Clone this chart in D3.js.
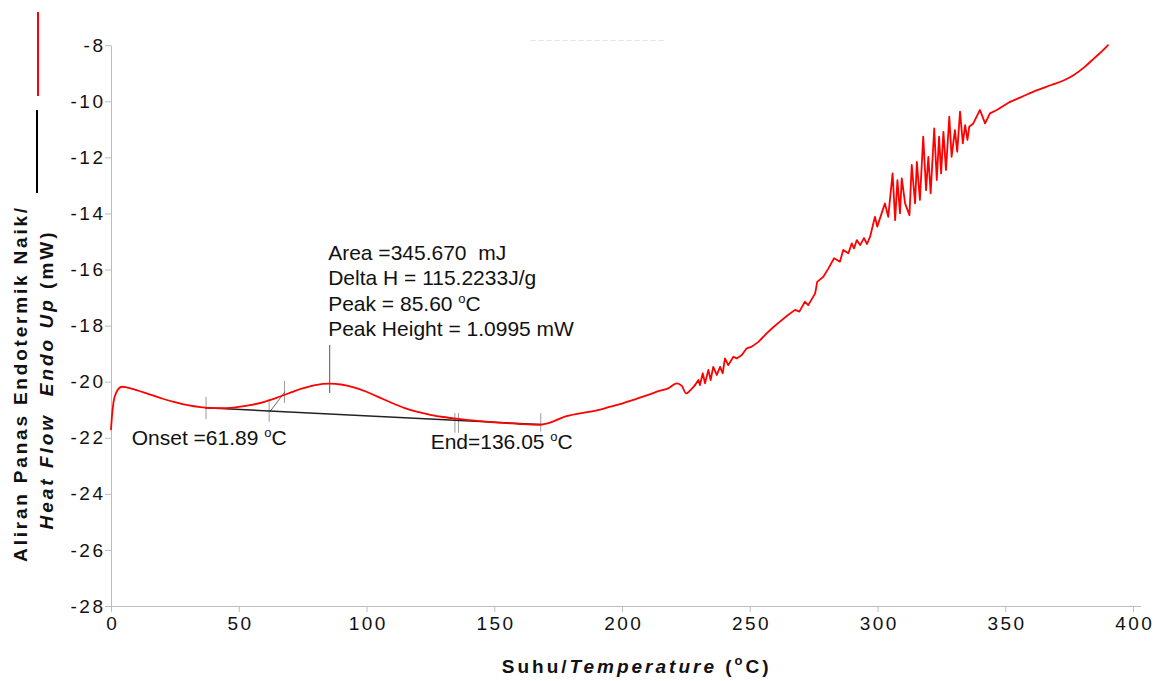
<!DOCTYPE html>
<html>
<head>
<meta charset="utf-8">
<script src="https://cdn.jsdelivr.net/npm/d3@7"></script>
<style>
  body { margin: 0; background: #fff; }
  svg { display: block; font-family: "Liberation Sans", Arial, sans-serif; }
  .pre { white-space: pre; }
</style>
</head>
<body>
<svg id="chart" width="1160" height="681"></svg>
<script>
// DSC trace: temperature (oC) and heat flow (mW)
const temps = [
  0, 0.4, 1, 2, 3, 4.3, 6, 10, 15, 20, 25, 30, 35, 40, 45, 50, 55, 60, 65, 70,
  75, 80, 85.6, 90, 95, 100, 105, 110, 115, 120, 125, 130, 135, 140, 145, 150, 155, 160, 165, 168,
  171.8, 176.9, 183.6, 188.7, 191.4, 195, 200, 204.4, 210, 214.9, 218.1, 221.4, 223.4, 225.1, 227, 228.6,
  229.9, 230.5, 231.6, 232.5, 233.8, 234.7, 235.7, 237.1, 238.4, 239.4, 240.3, 241.6, 243.6, 244.9,
  246.9, 248.8, 250.8, 253.4, 256.6, 259.2, 261.8, 264.5, 267.7, 269.4, 271.6, 272.9, 275.6, 276.4,
  278.8, 280.8, 283.0, 285.3, 286.6, 288.6, 289.9, 290.8, 291.9, 293.2, 294.7, 295.9, 297.1, 299.0,
  299.9, 302.9, 304.2, 305.9, 306.9, 307.8, 308.8, 309.5, 310.8, 312.5, 313.4, 314.7, 315.4, 316.6,
  317.9, 319.0, 319.9, 320.8, 322.2, 323.2, 324.1, 324.9, 325.8, 326.8, 328.1, 329.0, 330.3, 331.2,
  332.3, 333.4, 334.3, 335.2, 335.9, 337.5, 340.1, 342.1, 344.0, 346.7, 351.9,
  356, 362, 368, 373, 377, 381, 385, 388, 390.2
];
const heatFlow = [
  -21.70, -21.20, -20.72, -20.40, -20.25, -20.18, -20.20, -20.30, -20.45, -20.60, -20.73, -20.84, -20.91, -20.94, -20.94, -20.90, -20.83, -20.72, -20.57, -20.40,
  -20.24, -20.12, -20.07, -20.10, -20.20, -20.36, -20.56, -20.76, -20.94, -21.08, -21.18, -21.26, -21.32, -21.37, -21.41, -21.45, -21.48, -21.51, -21.53, -21.53,
  -21.46, -21.27, -21.13, -21.05, -21.00, -20.90, -20.78, -20.65, -20.48, -20.32, -20.24, -20.06, -20.15, -20.42, -20.28, -20.12,
  -19.94, -20.12, -19.70, -20.06, -19.58, -19.94, -19.47, -19.76, -19.47, -19.70, -19.17, -19.41, -19.11, -19.17,
  -19.05, -18.81, -18.75, -18.58, -18.28, -18.06, -17.86, -17.66, -17.44, -17.50, -17.15, -17.27, -16.85, -16.44,
  -16.26, -15.96, -15.60, -15.72, -15.30, -15.42, -15.07, -15.25, -14.95, -15.13, -14.88, -15.09, -14.83, -14.12,
  -14.47, -13.64, -14.12, -12.57, -14.24, -12.81, -14.00, -12.75, -13.64, -14.06, -12.27, -13.64, -12.16, -13.52,
  -11.26, -13.17, -11.98, -13.28, -10.97, -12.81, -11.26, -12.57, -11.09, -12.45, -10.55, -11.98, -11.03, -11.80,
  -10.37, -11.50, -10.85, -11.38, -10.91, -10.79, -10.31, -10.79, -10.43, -10.31, -10.02,
  -9.86, -9.62, -9.42, -9.25, -9.05, -8.78, -8.45, -8.20, -8.00
];
// the trace is noisy between these temperatures and is drawn there with straight segments
const noiseStart = 228.6;
const noiseEnd = 351.9;

// integration baseline, onset tangent and the little marker bars
const baselineT = [36.8, 168.2];
const baselineH = [-20.93, -21.53];
const tangentT = [62.2, 68.1];
const tangentH = [-21.07, -20.36];
const markerT = [37.2, 61.9, 67.9, 134.6, 136.0, 168.2];
const markerTop = [-20.54, -20.62, -19.97, -21.12, -21.12, -21.12];
const markerBottom = [-21.34, -21.43, -20.76, -21.82, -21.82, -21.78];
const peakT = 85.6;
const peakLine = [-18.69, -20.40];

const xTicks = [0, 50, 100, 150, 200, 250, 300, 350, 400];
const yTicks = [-28, -26, -24, -22, -20, -18, -16, -14, -12, -10, -8];

const peakInfo = ["Area =345.670  mJ", "Delta H = 115.2233J/g", "Peak = 85.60 ", "Peak Height = 1.0995 mW"];
const onsetLabel = "Onset =61.89 ";
const endLabel = "End=136.05 ";

const svg = d3.select("#chart");
const x = d3.scaleLinear().domain([0, 400]).range([111, 1133]);
const y = d3.scaleLinear().domain([-28, -8]).range([606, 45.2]);

const axisColor = "#bdbdbd";
const tickFont = { size: 19, spacing: 2.5 };

// x axis
const gx = svg.append("g")
  .attr("transform", `translate(0,${y(-28)})`)
  .call(d3.axisBottom(x).tickValues(xTicks).tickSize(6).tickSizeOuter(0).tickFormat(d => String(d)));
gx.select(".domain").attr("d", `M${x(0)},0.5H${x(400) + 8}`);
gx.selectAll(".tick text")
  .attr("y", 11)
  .attr("dx", tickFont.spacing / 2)
  .attr("dy", "0.71em");

// y axis (plain hyphen for the minus sign, like the original)
const gy = svg.append("g")
  .attr("transform", `translate(${x(0)},0)`)
  .call(d3.axisLeft(y).tickValues(yTicks).tickSize(6).tickSizeOuter(0).tickFormat(d => String(d)));
gy.selectAll(".tick text").attr("x", -5.5);

svg.selectAll(".domain, .tick line").attr("stroke", axisColor);
svg.selectAll(".tick text")
  .attr("fill", "#111")
  .style("font-family", "'Liberation Sans', Arial, sans-serif")
  .style("font-size", tickFont.size + "px")
  .style("letter-spacing", tickFont.spacing + "px");

// faint artefact line near the top of the plot
svg.append("line")
  .attr("x1", x(164)).attr("x2", x(217))
  .attr("y1", y(-7.83)).attr("y2", y(-7.83))
  .attr("stroke", "#e6e6e6")
  .attr("stroke-dasharray", "6,2");

// markers and baseline
const marks = svg.append("g");
marks.selectAll("line.marker")
  .data(markerT)
  .join("line")
  .attr("class", "marker")
  .attr("x1", d => x(d)).attr("x2", d => x(d))
  .attr("y1", (d, i) => y(markerTop[i]))
  .attr("y2", (d, i) => y(markerBottom[i]))
  .attr("stroke", "#9a9a9a")
  .attr("stroke-width", 1);

marks.append("line")
  .attr("x1", x(peakT)).attr("x2", x(peakT))
  .attr("y1", y(peakLine[0])).attr("y2", y(peakLine[1]))
  .attr("stroke", "#555")
  .attr("stroke-width", 1);

marks.append("line")
  .attr("x1", x(tangentT[0])).attr("y1", y(tangentH[0]))
  .attr("x2", x(tangentT[1])).attr("y2", y(tangentH[1]))
  .attr("stroke", "#666")
  .attr("stroke-width", 1);

marks.append("line")
  .attr("x1", x(baselineT[0])).attr("y1", y(baselineH[0]))
  .attr("x2", x(baselineT[1])).attr("y2", y(baselineH[1]))
  .attr("stroke", "#222")
  .attr("stroke-width", 1.6);

// the red DSC curve: smooth start, noisy middle, smooth tail
const trace = temps.map((t, i) => [t, heatFlow[i]]);
const smoothLine = d3.line().x(d => x(d[0])).y(d => y(d[1])).curve(d3.curveMonotoneX);
const noisyLine = d3.line().x(d => x(d[0])).y(d => y(d[1])).curve(d3.curveLinear);

const pieces = [
  [trace.filter(d => d[0] <= noiseStart), smoothLine],
  [trace.filter(d => d[0] >= noiseStart && d[0] <= noiseEnd), noisyLine],
  [trace.filter(d => d[0] >= noiseEnd), smoothLine]
];

svg.selectAll("path.trace")
  .data(pieces)
  .join("path")
  .attr("class", "trace")
  .attr("d", d => d[1](d[0]))
  .attr("fill", "none")
  .attr("stroke", "#ff0000")
  .attr("stroke-width", 1.8)
  .attr("stroke-linejoin", "round")
  .attr("stroke-linecap", "round");

// annotation text
const note = svg.append("g").attr("fill", "#111").style("font-size", "21px");

function degree(sel) {
  sel.append("tspan").attr("dy", -8).style("font-size", "13px").text("o");
  sel.append("tspan").attr("dy", 8).text("C");
}

note.selectAll("text.info")
  .data(peakInfo)
  .join("text")
  .attr("class", "info pre")
  .attr("x", x(85))
  .attr("y", (d, i) => y(-15.66) + i * 25.3)
  .each(function(d, i) {
    const t = d3.select(this);
    t.append("tspan").text(d);
    if (i === 2) degree(t);
  });

note.append("text")
  .attr("class", "pre")
  .attr("x", x(8.1))
  .attr("y", y(-22.26))
  .call(t => t.append("tspan").text(onsetLabel))
  .call(degree);

note.append("text")
  .attr("class", "pre")
  .attr("x", x(125.1))
  .attr("y", y(-22.41))
  .call(t => t.append("tspan").text(endLabel))
  .call(degree);

// axis titles
svg.append("text")
  .attr("transform", "translate(27,383.5) rotate(-90)")
  .attr("text-anchor", "middle")
  .attr("fill", "#111")
  .style("font-size", "19px")
  .style("font-weight", "bold")
  .style("letter-spacing", "2.8px")
  .text("Aliran Panas Endotermik Naik/");

svg.append("text")
  .attr("class", "pre")
  .attr("transform", "translate(53,379.5) rotate(-90)")
  .attr("text-anchor", "middle")
  .attr("fill", "#111")
  .style("font-size", "19px")
  .style("font-weight", "bold")
  .style("letter-spacing", "3px")
  .call(t => t.append("tspan").style("font-style", "italic").text("Heat Flow  Endo Up "))
  .call(t => t.append("tspan").text("(mW)"));

svg.append("text")
  .attr("class", "pre")
  .attr("x", 636.7)
  .attr("y", 673)
  .attr("text-anchor", "middle")
  .attr("fill", "#111")
  .style("font-size", "19px")
  .style("font-weight", "bold")
  .style("letter-spacing", "3px")
  .call(t => t.append("tspan").text("Suhu/"))
  .call(t => t.append("tspan").style("font-style", "italic").text("Temperature"))
  .call(t => t.append("tspan").text(" ("))
  .call(t => t.append("tspan").attr("dy", -8).style("font-size", "13px").text("o"))
  .call(t => t.append("tspan").attr("dy", 8).text("C)"));

// legend strokes at the top left
const legendColors = ["#ff0000", "#000"];
svg.selectAll("line.legend")
  .data(legendColors)
  .join("line")
  .attr("class", "legend")
  .attr("x1", (d, i) => 38 - i).attr("x2", (d, i) => 38 - i)
  .attr("y1", (d, i) => 12 + i * 98)
  .attr("y2", (d, i) => 96 + i * 97)
  .attr("stroke", d => d)
  .attr("stroke-width", 2);
</script>
</body>
</html>
